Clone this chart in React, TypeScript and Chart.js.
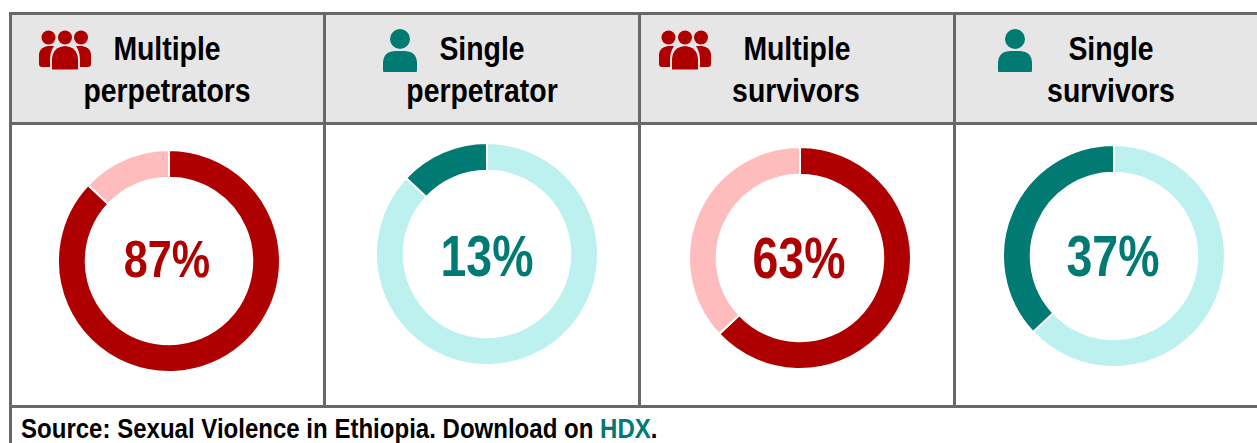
import React, { useEffect, useRef } from "react";
import { Chart, registerables } from "chart.js";

Chart.register(...registerables);

const titles = [["Multiple", "perpetrators"], ["Single", "perpetrator"], ["Multiple", "survivors"], ["Single", "survivors"]];
const percentLabels = ["87%", "13%", "63%", "37%"];
const series0 = [87, 13];
const series1 = [87, 13];
const series2 = [63, 37];
const series3 = [63, 37];
const RED = "#ae0000";
const PINK = "#ffbcbc";
const TEAL = "#007a72";
const AQUA = "#bcf1ef";
const colors = [[RED, PINK], [AQUA, TEAL], [RED, PINK], [AQUA, TEAL]];
const allSeries = [series0, series1, series2, series3];

const FONT = '"Liberation Sans", Arial, sans-serif';
const LINE = "#686868";
const centers = [[169, 261], [487, 254], [800, 258], [1114, 256]];
const iconPos = [[39, 30], [383, 29], [659, 30], [998, 29]];
const lineCenters = [[167, 167], [482, 482], [797, 796], [1111, 1111]];
const labelCenters = [[167, 259], [487, 256], [799, 258], [1113, 256]];

function Squeezed({ text, cx, cy, size, color, sx = 0.86 }: any) {
  return (
    <div style={{ position: "absolute", left: cx - 200, top: cy - size, width: 400, height: size * 2, lineHeight: `${size * 2}px`, textAlign: "center", fontFamily: FONT, fontWeight: 700, fontSize: size, color, transform: `scaleX(${sx})`, whiteSpace: "nowrap" }}>{text}</div>
  );
}

function Group({ x, y }: any) {
  return (
    <svg style={{ position: "absolute", left: x, top: y }} width="52" height="40" viewBox="0 0 52 40">
      <g fill={RED}>
        <circle cx="9.5" cy="7.5" r="7" /><circle cx="26" cy="7.5" r="7" /><circle cx="42" cy="7.5" r="7" />
        <path d="M0 34 V24 Q1 17 9 16 H15 Q11 22 11 30 V37 H3 Q0 37 0 34Z" />
        <path d="M52 34 V24 Q51 17 43 16 H37 Q41 22 41 30 V37 H49 Q52 37 52 34Z" />
        <path d="M13 39 V29 Q14 17 26 16 Q38 17 39 29 V39 Q39 39.5 38 39.5 H14 Q13 39.5 13 39Z" />
      </g>
    </svg>
  );
}

function Person({ x, y }: any) {
  return (
    <svg style={{ position: "absolute", left: x, top: y }} width="34" height="44" viewBox="0 0 34 44">
      <g fill={TEAL}>
        <circle cx="17" cy="10" r="10" />
        <path d="M0 42 V33 Q1 22 13 22 H21 Q33 22 34 33 V42 Q34 43 33 43 H1 Q0 43 0 42Z" />
      </g>
    </svg>
  );
}

function Donut({ values, palette, cx, cy }: any) {
  const ref = useRef<HTMLCanvasElement>(null);
  useEffect(() => {
    const chart = new Chart(ref.current!, {
      type: "doughnut",
      data: { labels: ["a", "b"], datasets: [{ data: values, backgroundColor: palette, borderColor: "#fff", borderWidth: 2 }] },
      options: {
        responsive: false, animation: false, cutout: "75%",
        layout: { padding: 0 },
        plugins: { legend: { display: false }, tooltip: { enabled: false } },
      },
    });
    return () => chart.destroy();
  }, []);
  return <canvas ref={ref} width={224} height={224} style={{ position: "absolute", left: cx - 112, top: cy - 112, width: 224, height: 224 }} />;
}

export default function App() {
  useEffect(() => { document.body.style.margin = "0"; document.body.style.overflow = "hidden"; }, []);
  const box = (l: number, t: number, w: number, h: number, bg: string) => <div key={`${l}-${t}-${w}-${h}`} style={{ position: "absolute", left: l, top: t, width: w, height: h, background: bg }} />;
  return (
    <div style={{ position: "relative", width: 1257, height: 443, overflow: "hidden", background: "#fff" }}>
      {box(11, 14, 1246, 108, "#e6e6e6")}
      {box(9, 12, 1248, 3, LINE)}
      {box(9, 122, 1248, 3, LINE)}
      {box(9, 405, 1248, 3, LINE)}
      {box(9, 12, 3, 431, LINE)}
      {[323, 638, 953].map((x) => box(x, 12, 3, 395, LINE))}
      {titles.map((t, i) => (
        <React.Fragment key={i}>
          <Squeezed text={t[0]} cx={lineCenters[i][0]} cy={49} size={33} color="#000" />
          <Squeezed text={t[1]} cx={lineCenters[i][1]} cy={91} size={33} color="#000" />
          {i % 2 === 0 ? <Group x={iconPos[i][0]} y={iconPos[i][1]} /> : <Person x={iconPos[i][0]} y={iconPos[i][1]} />}
          <Donut values={allSeries[i]} palette={colors[i]} cx={centers[i][0]} cy={centers[i][1]} />
          <Squeezed text={percentLabels[i]} cx={labelCenters[i][0]} cy={labelCenters[i][1]} size={i === 0 ? 52 : 58} sx={i === 0 ? 0.83 : 0.8} color={i % 2 === 0 ? RED : TEAL} />
        </React.Fragment>
      ))}
      <div style={{ position: "absolute", left: 21, top: 412, height: 34, lineHeight: "34px", fontFamily: FONT, fontWeight: 700, fontSize: 27, color: "#000", whiteSpace: "nowrap", transform: "scaleX(0.89)", transformOrigin: "left center" }}>
        Source: Sexual Violence in Ethiopia. Download on <span style={{ color: TEAL }}>HDX</span>.
      </div>
    </div>
  );
}
